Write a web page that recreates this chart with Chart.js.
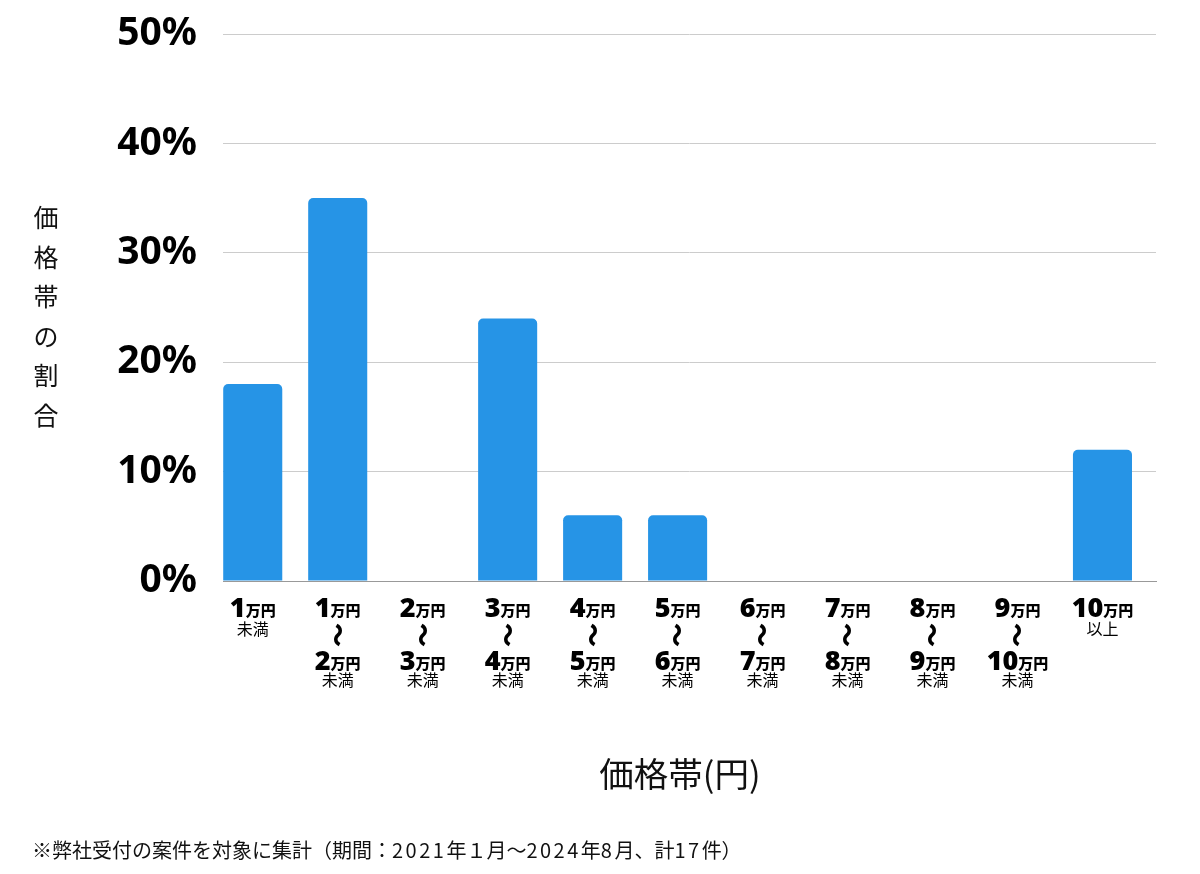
<!DOCTYPE html>
<html>
<head>
<meta charset="utf-8">
<script src="https://cdn.jsdelivr.net/npm/chart.js@4.4.1/dist/chart.umd.min.js"></script>
<style>
  html, body { margin: 0; padding: 0; background: #fff; }
  #wrap { position: relative; width: 1200px; height: 874px; overflow: hidden; }
  #c { position: absolute; left: 0; top: 0; }
  .txt { position: absolute; font-family: "Noto Sans CJK JP", "Noto Sans", sans-serif; color: #111; white-space: nowrap; }
  #ytitle { left: 32px; top: 197px; width: 28px; font-size: 25px; line-height: 39.6px; text-align: center; white-space: normal; word-break: break-all; }
  #xtitle { left: 480px; width: 400px; top: 754px; font-size: 34.5px; line-height: 36px; text-align: center; }
  #note { left: 32px; top: 838px; font-size: 20px; line-height: 24px; }
  #note .d { letter-spacing: 2.5px; }
</style>
</head>
<body>
<div id="wrap">
  <canvas id="c" width="1200" height="874"></canvas>
  <div class="txt" id="ytitle">価格帯の割合</div>
  <div class="txt" id="xtitle">価格帯(円)</div>
  <div class="txt" id="note">※弊社受付の案件を対象に集計（期間：<span class="d">2021</span>年１月〜<span class="d">2024</span>年<span class="d">8</span>月、計<span class="d">17</span>件）</div>
</div>
<script>
// ---- data ----
const categories = ['1万円未満','1万円〜2万円未満','2万円〜3万円未満','3万円〜4万円未満','4万円〜5万円未満','5万円〜6万円未満','6万円〜7万円未満','7万円〜8万円未満','8万円〜9万円未満','9万円〜10万円未満','10万円以上'];
const tickFrom   = ['1','1','2','3','4','5','6','7','8','9','10'];
const tickTo     = [null,'2','3','4','5','6','7','8','9','10',null];
const tickSuffix = ['未満','未満','未満','未満','未満','未満','未満','未満','未満','未満','以上'];
const shares     = [18, 35, 0, 24, 6, 6, 0, 0, 0, 0, 12];
const yTicks     = [0, 10, 20, 30, 40, 50];

const CJK = '"Noto Sans CJK JP", sans-serif';
const NUMF = '"Noto Sans", "Noto Sans CJK JP", sans-serif';

const tickLabelPlugin = {
  id: 'tickLabels',
  afterDraw(chart) {
    const ctx = chart.ctx;
    const xs = chart.scales.x;
    ctx.save();
    ctx.fillStyle = '#000';
    ctx.textBaseline = 'alphabetic';
    const drawAmount = (num, cx, base) => {
      ctx.font = '900 27px ' + NUMF;
      const w1 = ctx.measureText(num).width;
      ctx.font = '900 15px ' + CJK;
      const w2 = ctx.measureText('万円').width;
      const sx = cx - (w1 + w2) / 2;
      ctx.textAlign = 'left';
      ctx.font = '900 27px ' + NUMF;
      ctx.fillText(num, sx, base);
      ctx.font = '900 15px ' + CJK;
      ctx.fillText('万円', sx + w1, base - 1);
    };
    const drawSmall = (t, cx, base) => {
      ctx.font = '16px ' + CJK;
      ctx.textAlign = 'center';
      ctx.fillText(t, cx, base);
    };
    categories.forEach((cat, i) => {
      const cx = xs.getPixelForValue(i);
      drawAmount(tickFrom[i], cx, 617);
      if (tickTo[i] !== null) {
        ctx.save();
        ctx.translate(cx, 635);
        ctx.rotate(Math.PI / 2);
        ctx.font = '900 24px ' + CJK;
        ctx.textAlign = 'center';
        ctx.textBaseline = 'middle';
        ctx.fillText('〜', 0, 0);
        ctx.restore();
        drawAmount(tickTo[i], cx, 670);
        drawSmall(tickSuffix[i], cx, 686);
      } else {
        drawSmall(tickSuffix[i], cx, 635);
      }
    });
    ctx.restore();
  }
};

new Chart(document.getElementById('c'), {
  type: 'bar',
  data: {
    datasets: [{
      label: '価格帯の割合',
      data: shares.map((v, i) => ({ x: i, y: v })),
      backgroundColor: '#2694E6',
      borderRadius: 5,
      borderSkipped: 'start',
      categoryPercentage: 1.0,
      barPercentage: 0.695
    }]
  },
  options: {
    responsive: false,
    animation: false,
    devicePixelRatio: 1,
    layout: { padding: { left: 0, top: 34, right: 44, bottom: 0 } },
    plugins: { legend: { display: false }, tooltip: { enabled: false } },
    scales: {
      x: {
        type: 'linear',
        offset: false,
        min: -0.35,
        max: 10.63,
        afterBuildTicks(scale) { scale.ticks = categories.map((c, i) => ({ value: i })); },
        grid: { display: false, offset: false },
        border: { display: true, color: '#999', width: 1 },
        ticks: { display: false },
        afterFit(scale) { scale.height = 874 - 581; scale.paddingLeft = 0; scale.paddingRight = 0; }
      },
      y: {
        min: 0,
        max: 50,
        afterBuildTicks(scale) { scale.ticks = yTicks.map(v => ({ value: v })); },
        grid: { color: '#cccccc', lineWidth: 1, drawTicks: false },
        border: { display: false },
        ticks: {
          padding: 26,
          color: '#000',
          font: { family: '"Noto Sans", "Noto Sans CJK JP", sans-serif', size: 39, weight: 'bold' },
          callback: v => v + '%'
        },
        afterFit(scale) { scale.width = 223; scale.paddingTop = 0; scale.paddingBottom = 0; }
      }
    }
  },
  plugins: [tickLabelPlugin]
});
</script>
</body>
</html>
